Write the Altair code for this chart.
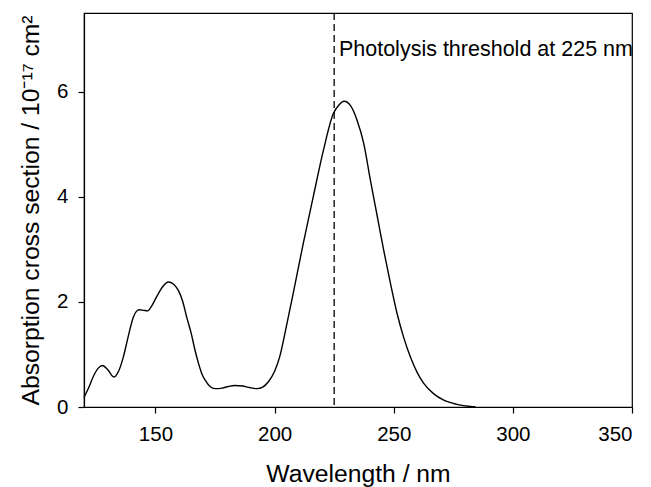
import altair as alt
import pandas as pd

wavelength = [120, 122, 124, 126, 127.7, 130, 132.6, 134.5, 136.5, 138.6, 140.7, 142, 143.2, 145, 146.7,
              148.5, 150.5, 153, 155.4, 157.5, 159.6, 161.5, 163.1, 165, 166.6, 168, 169.4, 171, 172.9, 175,
              178, 180.5, 183.4, 186.5, 189.5, 192.6, 195, 197.4, 200, 202.1, 205.2, 208.5, 212.1, 216.3,
              220.5, 224.7, 227, 229.2, 231.8, 234.6, 237.4, 240.2, 243, 245.8, 248.6, 251.4, 254.2, 257,
              259.8, 262.6, 266.8, 271, 276.5, 282.2, 284.3]
cross_section = [0.18, 0.37, 0.59, 0.74, 0.79, 0.71, 0.57, 0.68, 0.95, 1.35, 1.71, 1.82, 1.85, 1.84, 1.83,
                 1.93, 2.1, 2.29, 2.38, 2.34, 2.22, 2.0, 1.71, 1.4, 1.08, 0.84, 0.64, 0.5, 0.39, 0.35,
                 0.36, 0.39, 0.41, 0.4, 0.37, 0.35, 0.38, 0.48, 0.68, 0.95, 1.59, 2.32, 3.13, 4.02,
                 4.89, 5.59, 5.75, 5.82, 5.74, 5.46, 5.02, 4.32, 3.65, 2.98, 2.36, 1.78, 1.32, 0.95,
                 0.66, 0.45, 0.25, 0.13, 0.05, 0.01, 0.005]

threshold = [225]
label_text = ["Photolysis threshold at 225 nm"]
label_x = [227]
label_y = [6.8]

FONT = "Liberation Sans"

df = pd.DataFrame({"wavelength": wavelength, "sigma": cross_section})
df_thr = pd.DataFrame({"t": threshold})
df_lab = pd.DataFrame({"x": label_x, "y": label_y, "text": label_text})

xscale = alt.Scale(domain=[120, 350], nice=False, zero=False)
yscale = alt.Scale(domain=[0, 7.5], nice=False)

line = alt.Chart(df).mark_line(color="black", strokeWidth=1.4, interpolate="monotone").encode(
    x=alt.X("wavelength:Q", scale=xscale,
            axis=alt.Axis(title="Wavelength / nm", values=[150, 200, 250, 300, 350],
                          labelPadding=11, titlePadding=17)),
    y=alt.Y("sigma:Q", scale=yscale,
            axis=alt.Axis(title="Absorption cross section / 10⁻¹⁷ cm²", values=[0, 2, 4, 6],
                          labelPadding=10, titlePadding=13)),
)

rule = alt.Chart(df_thr).mark_rule(color="black", strokeWidth=1.3, strokeDash=[7, 4]).encode(
    x=alt.X("t:Q", scale=xscale)
)

text = alt.Chart(df_lab).mark_text(align="left", baseline="middle", font=FONT, fontSize=21.5,
                                   color="black").encode(
    x=alt.X("x:Q", scale=xscale),
    y=alt.Y("y:Q", scale=yscale),
    text="text:N",
)

chart = alt.layer(line, rule, text).properties(
    width=548, height=394,
    autosize=alt.AutoSizeParams(type="none"),
    padding={"left": 84, "top": 13, "right": 19, "bottom": 80},
    background="white",
).configure_view(
    stroke="black", strokeWidth=1.2
).configure_axis(
    grid=False, domainColor="black", domainWidth=1.2, tickColor="black", tickWidth=1.2,
    tickSize=6, labelFont=FONT, titleFont=FONT, labelFontSize=20.5, titleFontSize=24.7,
    labelColor="black", titleColor="black", titleFontWeight="normal",
)

chart.save("out.html", embed_options={"renderer": "svg", "actions": False})
